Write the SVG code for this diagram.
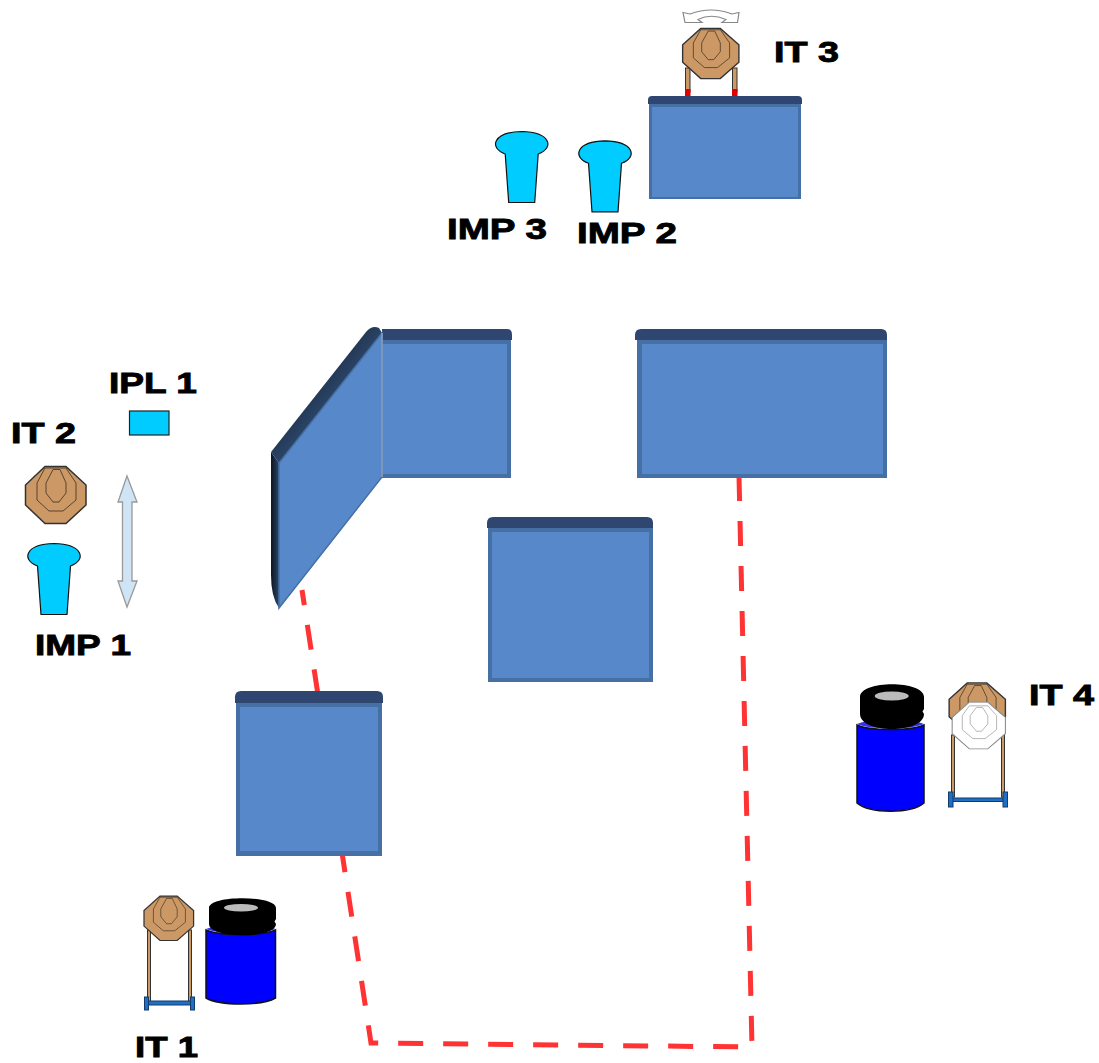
<svg xmlns="http://www.w3.org/2000/svg" xmlns:xlink="http://www.w3.org/1999/xlink" width="1099" height="1063" viewBox="0 0 1099 1063">
<style>
.outer{fill:#4670a5}
.front{fill:#5788c9}
.top{fill:#2e4670}
.lbl{font-family:"Liberation Sans",Arial,sans-serif;font-weight:700;font-size:30px;fill:#000;stroke:#000;stroke-width:.9}
.imp{fill:#00ccff;stroke:#111;stroke-width:1.2}
.oct{fill:#cc9966;stroke:#333;stroke-width:1.5}
.ring{fill:none;stroke:#4a3a28;stroke-width:.9}
.wh{fill:#fff;stroke:#888;stroke-width:1.2}
.wring{fill:none;stroke:#aaa;stroke-width:1}
.leg{fill:#cc9966;stroke:#333;stroke-width:1}
.blue{fill:#0000ff;stroke:#111;stroke-width:1.5}
.rim{fill:#3333ee}
.lid{fill:#000}
.hole{fill:#bbb}
.base{fill:#1f6fc4;stroke:#123a6a;stroke-width:1}
</style>
<defs>
<g id="imp-shape">
<path class="imp" d="M-16.500 9C-33 3-29-13 0-13.500C29-13 33 3 16.500 9L13 57.500H-13Z"/>
</g>
<g id="target">
<polygon class="oct" points="-11,-28.500 10,-28.500 30,-10 30,10 10,28.500 -11,28.500 -30.500,10 -30.500,-10"/>
<polygon class="ring" points="-11,-27 -19,-12 -19,5 -7,16 7,16 20,5 20,-12 10,-27"/>
<polygon class="ring" points="-3,-25.500 -10,-12 -10,-2 -3,7 3,7 10,-2 10,-12 4,-25.500"/>
</g>
<g id="target-white">
<polygon class="wh" points="-11,-28.500 10,-28.500 30,-10 30,10 10,28.500 -11,28.500 -30.500,10 -30.500,-10"/>
<polygon class="wring" points="-11,-24 -19,-12 -19,5 -7,16 7,16 20,5 20,-12 10,-24"/>
<polygon class="wring" points="-3,-22 -10,-12 -10,-2 -3,7 3,7 10,-2 10,-12 4,-22"/>
</g>
<linearGradient id="edge" x1="0" x2="1" y1="0" y2="0">
<stop offset="0" stop-color="#0d1520"/><stop offset="1" stop-color="#2b4569"/>
</linearGradient>
<linearGradient id="slant" x1="0" x2="1" y1="0" y2="1">
<stop offset="0.350" stop-color="#1c2c42"/><stop offset="0.650" stop-color="#34547f"/>
</linearGradient>
</defs>

<g id="connectors">
<path d="M739 476L752 1047L371 1043L302 590" fill="none" stroke="#ff3333" stroke-width="5" stroke-dasharray="25 20"/>
</g>

<g id="block-top">
<rect class="outer" x="649" y="100" width="152" height="99"/>
<rect class="front" x="652" y="107" width="146" height="90"/>
<path class="top" d="M648 104V100Q648 96 652 96H798Q802 96 802 100V104Z"/>
</g>
<g id="block-left">
<rect class="outer" x="382" y="335" width="129" height="143"/>
<rect class="front" x="382" y="344" width="125" height="130"/>
<path class="top" d="M382 340V329H507Q512 329 512 335V340Z"/>
</g>
<g id="block-right">
<rect class="outer" x="637" y="335" width="250" height="143"/>
<rect class="front" x="642" y="344" width="241" height="130"/>
<path class="top" d="M635 340V335Q635 329 641 329H881Q887 329 887 335V340Z"/>
</g>
<g id="block-center">
<rect class="outer" x="488" y="522" width="165" height="160"/>
<rect class="front" x="492" y="532" width="157" height="146"/>
<path class="top" d="M487 528V523Q487 517 493 517H647Q653 517 653 523V528Z"/>
</g>
<g id="block-lower">
<rect class="outer" x="236" y="696" width="146" height="160"/>
<rect class="front" x="240" y="707" width="138" height="144"/>
<path class="top" d="M235 703V697Q235 691 241 691H377Q383 691 383 697V703Z"/>
</g>
<g id="wall-slanted">
<path d="M271 452V575Q271 597 279 608V463Z" fill="url(#edge)"/>
<path d="M271 452L366 332Q372 325 379 328L382 333L279 463Z" fill="url(#slant)"/>
<path d="M382 333L279 463V608L382 477Z" fill="#5788c9" stroke="#4670a5" stroke-width="1.500"/>
<path d="M382 333V477" stroke="#8ea3bd" stroke-width="1.500" fill="none"/>
</g>

<g id="it3">
<path class="wh" d="M683 12.500L690 14Q711 6 732 14L739 12.500L737.500 22.500H722L726 19.500Q711 13 698 19.500L702 22.500H685Z"/>
<rect class="leg" x="685.500" y="68" width="4.500" height="24"/>
<rect class="leg" x="732.500" y="68" width="4.500" height="24"/>
<rect x="685" y="89" width="5.500" height="7" fill="#e00000"/>
<rect x="732" y="89" width="5.500" height="7" fill="#e00000"/>
<use href="#target" xlink:href="#target" transform="translate(711 53.500) scale(.93 .88)"/>
<text class="lbl" x="774" y="62" textLength="65" lengthAdjust="spacingAndGlyphs">IT 3</text>
</g>
<g id="imp3">
<use href="#imp-shape" xlink:href="#imp-shape" x="521.700" y="145"/>
<text class="lbl" x="447" y="239" textLength="100" lengthAdjust="spacingAndGlyphs">IMP 3</text>
</g>
<g id="imp2">
<use href="#imp-shape" xlink:href="#imp-shape" x="605" y="154.300"/>
<text class="lbl" x="577" y="243" textLength="100" lengthAdjust="spacingAndGlyphs">IMP 2</text>
</g>
<g id="ipl1">
<rect x="129.500" y="411" width="39.500" height="24" fill="#00ccff" stroke="#222" stroke-width="1.200"/>
<text class="lbl" x="109" y="393" textLength="88" lengthAdjust="spacingAndGlyphs">IPL 1</text>
</g>
<g id="it2">
<use href="#target" xlink:href="#target" x="56" y="495"/>
<text class="lbl" x="11" y="443" textLength="65" lengthAdjust="spacingAndGlyphs">IT 2</text>
</g>
<g id="imp1">
<use href="#imp-shape" xlink:href="#imp-shape" x="54" y="557"/>
<text class="lbl" x="35" y="655" textLength="96" lengthAdjust="spacingAndGlyphs">IMP 1</text>
</g>
<g id="arrow-updown">
<path d="M127 476L137 502H132V581H137L127 607L118 581H122.500V502H118Z" fill="#cfe5f5" stroke="#999" stroke-width="1.300"/>
</g>

<g id="it1">
<rect class="leg" x="147.500" y="930" width="3" height="72"/>
<rect class="leg" x="188.500" y="930" width="3" height="72"/>
<rect class="base" x="147" y="1001" width="46" height="4"/>
<rect class="base" x="144.500" y="997" width="4" height="13"/>
<rect class="base" x="190.500" y="997" width="4" height="13"/>
<use href="#target" xlink:href="#target" transform="translate(169 918.300) scale(.82 .78)"/>
<path class="blue" d="M206 930C220 936 262 936 275.500 930V998C262 1006 220 1006 206 998Z"/>
<path class="rim" d="M206 929C220 935 262 935 275.500 929C262 923 220 923 206 929Z"/>
<path class="lid" d="M209 908C209 895 276 895 276 908V919L274.500 921.500L276 924C276 939 209 939 209 924Z"/>
<ellipse class="hole" cx="241" cy="907.700" rx="17" ry="3.800"/>
<text class="lbl" x="135" y="1057" textLength="63" lengthAdjust="spacingAndGlyphs">IT 1</text>
</g>
<g id="it4">
<rect class="leg" x="951.500" y="735" width="3" height="62"/>
<rect class="leg" x="1001.500" y="735" width="3" height="62"/>
<rect class="base" x="952" y="798" width="52" height="3.500"/>
<rect class="base" x="948.500" y="792" width="4.500" height="15"/>
<rect class="base" x="1003" y="792" width="4.500" height="15"/>
<use href="#target" xlink:href="#target" transform="translate(977.500 708) scale(.93 .88)"/>
<use href="#target-white" xlink:href="#target-white" transform="translate(979 725.500) scale(.88 .82)"/>
<path class="blue" d="M857 725C870 731 911 731 924 725V803C911 814 870 814 857 803Z"/>
<path class="rim" d="M857 724C870 730 911 730 924 724C911 718 870 718 857 724Z"/>
<path class="lid" d="M860 697C860 680 924 680 924 697V709L922.500 711.500L924 714C924 734 860 734 860 714Z"/>
<ellipse class="hole" cx="891.700" cy="696" rx="17" ry="4.500"/>
<text class="lbl" x="1029" y="705" textLength="65" lengthAdjust="spacingAndGlyphs">IT 4</text>
</g>
</svg>
